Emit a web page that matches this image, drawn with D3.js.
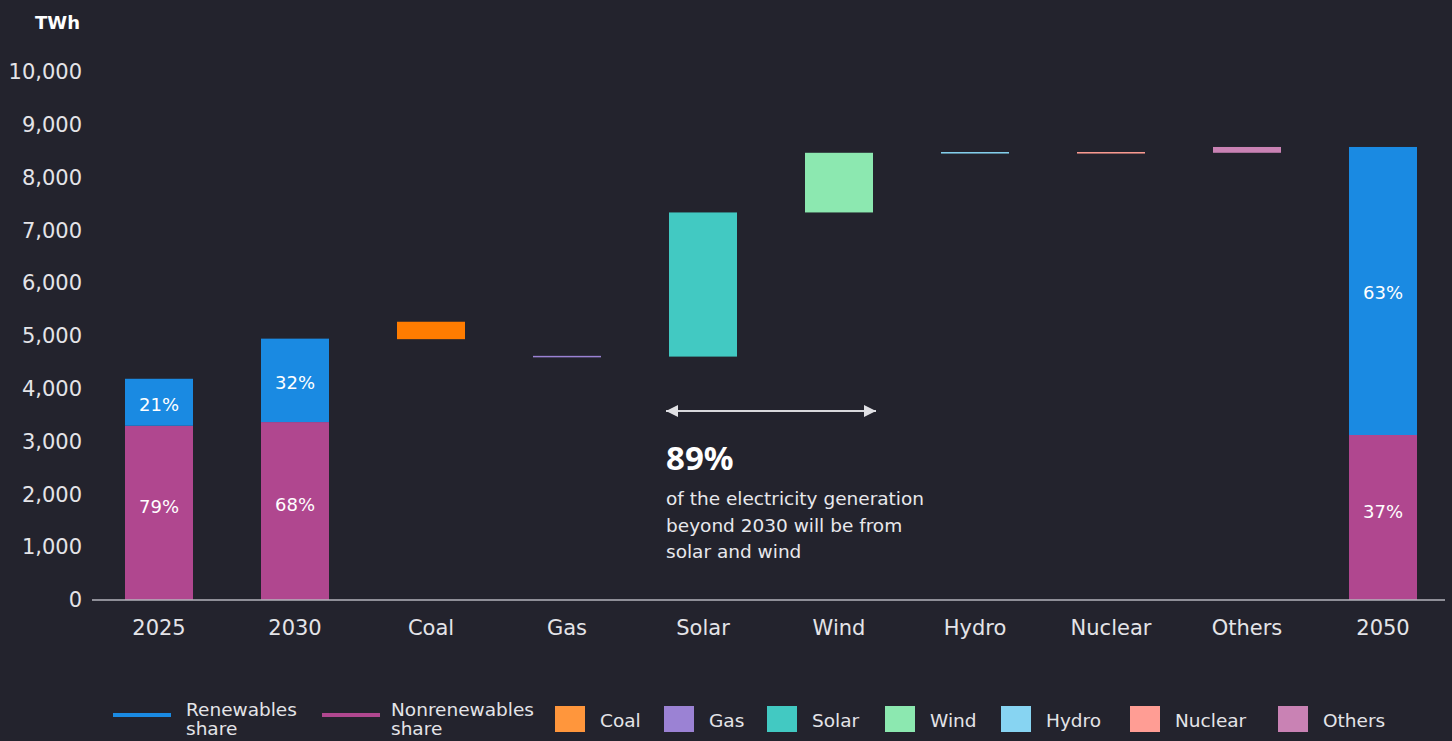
<!DOCTYPE html>
<html>
<head>
<meta charset="utf-8">
<script src="https://cdn.jsdelivr.net/npm/d3@7"></script>
<style>
  html, body { margin: 0; padding: 0; background: #23232d; }
  svg { display: block; font-family: "DejaVu Sans", sans-serif; }
</style>
</head>
<body>
<div id="chart"></div>
<script>
// categories along the x axis
var categories = ["2025", "2030", "Coal", "Gas", "Solar", "Wind", "Hydro", "Nuclear", "Others", "2050"];

// stacked totals (TWh)
var totalYears = ["2025", "2030", "2050"];
var nonrenewables = [3300, 3370, 3125];
var renewables = [890, 1580, 5455];
var renewPct = ["21%", "32%", "63%"];
var nonrenewPct = ["79%", "68%", "37%"];

// waterfall steps (TWh)
var steps = ["Coal", "Gas", "Solar", "Wind", "Hydro", "Nuclear", "Others"];
var stepFrom = [4940, 4610, 4610, 7340, 8470, 8470, 8470];
var stepTo = [5270, 4610, 7340, 8470, 8470, 8470, 8580];

var yTicks = [0, 1000, 2000, 3000, 4000, 5000, 6000, 7000, 8000, 9000, 10000];

var colors = {
  Renewables: "#1a8ae2",
  Nonrenewables: "#b0478f",
  Coal: "#ff7c00",
  Gas: "#9b82d4",
  Solar: "#42c9c2",
  Wind: "#8ce8b0",
  Hydro: "#87d4f2",
  Nuclear: "#ff9d94",
  Others: "#c982b4"
};
var legendColors = { Coal: "#ff963c" };

var width = 1452, height = 741;

var svg = d3.select("#chart")
  .append("svg")
  .attr("width", width)
  .attr("height", height);

var x = d3.scaleBand()
  .domain(categories)
  .range([91, 1451])
  .paddingInner(0.5)
  .paddingOuter(0.25);

var y = d3.scaleLinear()
  .domain([0, 10000])
  .range([600, 72]);

// y axis labels only
var yAxis = svg.append("g")
  .attr("transform", "translate(82,0)")
  .call(d3.axisLeft(y).tickValues(yTicks).tickSize(0).tickPadding(0).tickFormat(d3.format(",")));
yAxis.select(".domain").remove();
yAxis.selectAll("text")
  .attr("fill", "#e4e4e8")
  .attr("font-size", 21)
  .attr("font-family", "DejaVu Sans");

svg.append("text")
  .text("TWh")
  .attr("x", 80)
  .attr("y", 29)
  .attr("text-anchor", "end")
  .attr("font-weight", "bold")
  .attr("font-size", 18)
  .attr("fill", "#ffffff");

// stacked bars
var stacks = totalYears.map((yr, i) => ({ yr: yr, non: nonrenewables[i], ren: renewables[i], rp: renewPct[i], np: nonrenewPct[i] }));

svg.selectAll(".non")
  .data(stacks)
  .join("rect")
  .attr("x", d => x(d.yr))
  .attr("width", x.bandwidth())
  .attr("y", d => y(d.non))
  .attr("height", d => y(0) - y(d.non))
  .attr("fill", colors.Nonrenewables);

svg.selectAll(".ren")
  .data(stacks)
  .join("rect")
  .attr("x", d => x(d.yr))
  .attr("width", x.bandwidth())
  .attr("y", d => y(d.non + d.ren))
  .attr("height", d => y(d.non) - y(d.non + d.ren))
  .attr("fill", colors.Renewables);

svg.selectAll(".renLbl")
  .data(stacks)
  .join("text")
  .text(d => d.rp)
  .attr("x", d => x(d.yr) + x.bandwidth() / 2)
  .attr("y", d => (y(d.non) + y(d.non + d.ren)) / 2 + 2)
  .attr("dy", "0.35em")
  .attr("text-anchor", "middle")
  .attr("font-size", 18)
  .attr("fill", "#ffffff");

svg.selectAll(".nonLbl")
  .data(stacks)
  .join("text")
  .text(d => d.np)
  .attr("x", d => x(d.yr) + x.bandwidth() / 2)
  .attr("y", d => (y(0) + y(d.non)) / 2 - 6)
  .attr("dy", "0.35em")
  .attr("text-anchor", "middle")
  .attr("font-size", 18)
  .attr("fill", "#ffffff");

// waterfall steps
var stepData = steps.map((s, i) => ({ cat: s, from: stepFrom[i], to: stepTo[i] }));
svg.selectAll(".step")
  .data(stepData)
  .join("rect")
  .attr("x", d => x(d.cat))
  .attr("width", x.bandwidth())
  .attr("y", d => d.from === d.to ? y(d.to) - 0.75 : y(Math.max(d.from, d.to)))
  .attr("height", d => d.from === d.to ? 1.5 : Math.abs(y(d.from) - y(d.to)))
  .attr("fill", d => colors[d.cat]);

// x axis line
svg.append("line")
  .attr("x1", 92).attr("x2", 1445)
  .attr("y1", y(0)).attr("y2", y(0))
  .attr("stroke", "#b4b4bc")
  .attr("stroke-width", 1.5);

var xAxis = svg.append("g")
  .attr("transform", "translate(0," + y(0) + ")")
  .call(d3.axisBottom(x).tickSize(0).tickPadding(20));
xAxis.select(".domain").remove();
xAxis.selectAll("text")
  .attr("fill", "#e4e4e8")
  .attr("font-size", 21)
  .attr("font-family", "DejaVu Sans");

// annotation arrow over solar + wind
var defs = svg.append("defs");
["start", "end"].forEach(function (k) {
  defs.append("marker")
    .attr("id", "arr-" + k)
    .attr("viewBox", "0 0 12 12")
    .attr("refX", k === "end" ? 12 : 0)
    .attr("refY", 6)
    .attr("markerWidth", 12)
    .attr("markerHeight", 12)
    .attr("markerUnits", "userSpaceOnUse")
    .attr("orient", "auto")
    .append("path")
    .attr("d", k === "end" ? "M0,0 L12,6 L0,12 Z" : "M12,0 L0,6 L12,12 Z")
    .attr("fill", "#e0e0e4");
});
var ax1 = x("Solar") - 3, ax2 = x("Wind") + x.bandwidth() + 3;
svg.append("line")
  .attr("x1", ax1).attr("x2", ax2)
  .attr("y1", 411).attr("y2", 411)
  .attr("stroke", "#d8d8dc")
  .attr("stroke-width", 2)
  .attr("marker-start", "url(#arr-start)")
  .attr("marker-end", "url(#arr-end)");

svg.append("text")
  .text("89%")
  .attr("x", ax1)
  .attr("y", 470)
  .attr("font-family", "Noto Sans")
  .attr("font-weight", "bold")
  .attr("font-size", 33)
  .attr("fill", "#ffffff");

var note = ["of the electricity generation", "beyond 2030 will be from", "solar and wind"];
svg.selectAll(".note")
  .data(note)
  .join("text")
  .text(d => d)
  .attr("x", ax1)
  .attr("y", (d, i) => 505 + i * 26.5)
  .attr("font-size", 18.5)
  .attr("fill", "#e8e8ec");

// legend
var legendItems = [
  { name: ["Renewables", "share"], key: "Renewables", type: "line" },
  { name: ["Nonrenewables", "share"], key: "Nonrenewables", type: "line" },
  { name: ["Coal"], key: "Coal", type: "rect" },
  { name: ["Gas"], key: "Gas", type: "rect" },
  { name: ["Solar"], key: "Solar", type: "rect" },
  { name: ["Wind"], key: "Wind", type: "rect" },
  { name: ["Hydro"], key: "Hydro", type: "rect" },
  { name: ["Nuclear"], key: "Nuclear", type: "rect" },
  { name: ["Others"], key: "Others", type: "rect" }
];
var legendX = [113, 322, 555, 664, 767, 885, 1001, 1130, 1278];

legendItems.forEach(function (it, k) {
  var g = svg.append("g").attr("transform", "translate(" + legendX[k] + ",0)");
  var tx;
  if (it.type === "line") {
    g.append("rect")
      .attr("x", 0).attr("y", 713)
      .attr("width", 58).attr("height", 4)
      .attr("fill", colors[it.key]);
    tx = k === 0 ? 73 : 69;
  } else {
    g.append("rect")
      .attr("x", 0).attr("y", 706)
      .attr("width", 30).attr("height", 26)
      .attr("fill", legendColors[it.key] || colors[it.key]);
    tx = 45;
  }
  var t = g.append("text")
    .attr("font-size", 18.5)
    .attr("fill", "#e4e4e8");
  it.name.forEach(function (n, i) {
    t.append("tspan")
      .attr("x", tx)
      .attr("y", it.type === "line" ? 716 + i * 19 : 727)
      .text(n);
  });
});
</script>
</body>
</html>
